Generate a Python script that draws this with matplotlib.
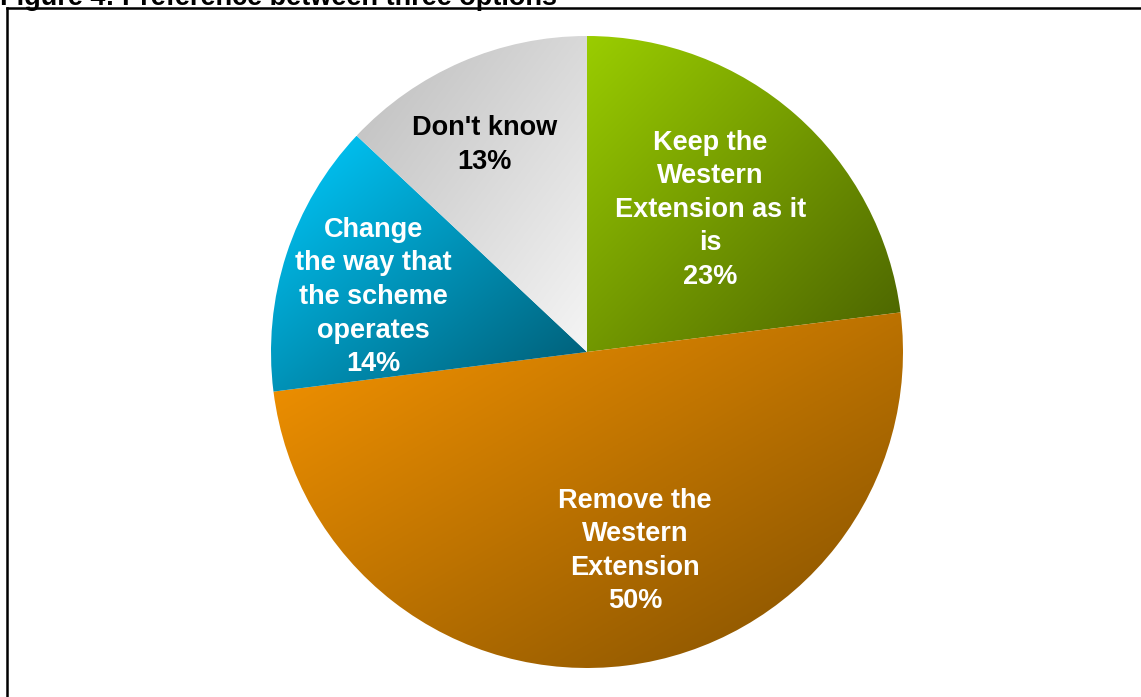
#!/usr/bin/env python3
# -*- coding: utf-8 -*-

"""
pie chart of the preferred option, slices filled with diagonal gradients
"""

import numpy as np
import matplotlib as mpl
import matplotlib.pyplot as plt
from matplotlib.colors import LinearSegmentedColormap
from matplotlib.lines import Line2D

# data
options = ["Keep the\nWestern\nExtension as it\nis",
           "Remove the\nWestern\nExtension",
           "Change\nthe way that\nthe scheme\noperates",
           "Don't know"]
shares = [23, 50, 14, 13]

# gradient ends (top-left light -> bottom-right dark) and label colours
grad_start = ['#9acd00', '#f89500', '#00ccff', '#bdbdbd']
grad_end = ['#4a6200', '#7e4e00', '#005a72', '#f5f5f5']
text_colors = ['white', 'white', 'white', 'black']
label_pos = [(0.39, 0.45), (0.152, -0.63), (-0.677, 0.174), (-0.323, 0.655)]

plt.rcParams['font.family'] = ['Liberation Sans', 'DejaVu Sans']

if __name__ == "__main__":
    W, H = 1141, 697
    fig = plt.figure(figsize=(W / 100, H / 100), dpi=100)

    cx, cy, r = 587, 352, 316
    ax = fig.add_axes([(cx - r) / W, (H - cy - r) / H, 2 * r / W, 2 * r / H])

    wedges, _ = ax.pie(shares, startangle=90, counterclock=False, radius=1,
                       wedgeprops=dict(linewidth=0))

    # fill every wedge with its own diagonal gradient
    n = 256
    u, v = np.meshgrid(np.linspace(0, 1, n), np.linspace(0, 1, n))
    grad = (u + v) / 2
    for w, c0, c1 in zip(wedges, grad_start, grad_end):
        w.set_facecolor('none')
        verts = w.get_path().vertices
        x0, y0 = verts.min(axis=0)
        x1, y1 = verts.max(axis=0)
        cmap = LinearSegmentedColormap.from_list('g', [c0, c1])
        im = ax.imshow(grad, cmap=cmap, extent=(x0, x1, y0, y1),
                       origin='upper', interpolation='bilinear', zorder=1)
        im.set_clip_path(w)

    for txt, val, pos, col in zip(options, shares, label_pos, text_colors):
        ax.text(pos[0], pos[1], f"{txt}\n{val}%", ha='center', va='center',
                color=col, fontsize=19.5, fontweight='bold', linespacing=1.38,
                zorder=3)

    ax.set_xlim(-1, 1)
    ax.set_ylim(-1, 1)
    ax.set_aspect('auto')
    ax.axis('off')

    # frame around the chart (top and left edges visible)
    fig.add_artist(Line2D([7 / W, 7 / W], [0, 1 - 8 / H], color='black', lw=1.8))
    fig.add_artist(Line2D([7 / W, 1], [1 - 8 / H, 1 - 8 / H], color='black', lw=1.8))

    # heading, cut by the top edge
    fig.text(0.0, 1 - 5 / H, "Figure 4: Preference between three options",
             fontsize=19.5, fontweight='bold', va='baseline', ha='left')

    plt.savefig("out.png", dpi=100)
